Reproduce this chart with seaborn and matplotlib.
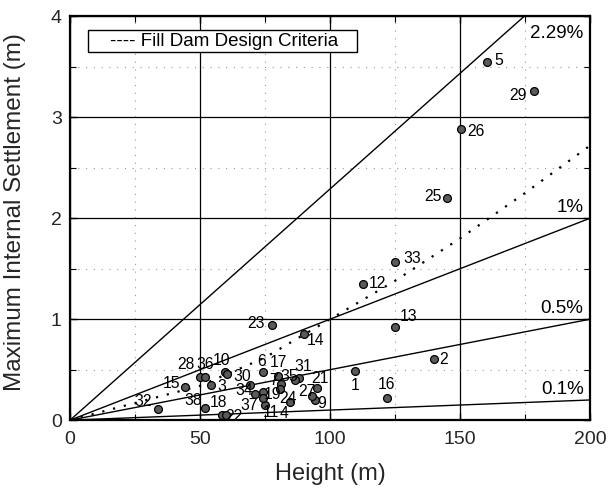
import numpy as np
import pandas as pd
import matplotlib
matplotlib.use("Agg")
import matplotlib.pyplot as plt
from matplotlib.patches import Rectangle
from matplotlib.ticker import MultipleLocator
import seaborn as sns

# Dam case records: case number, height (m), maximum internal settlement (m)
dam_ids = ["1", "2", "3", "4", "5", "6", "7", "9", "10", "11", "12", "13", "14",
           "15", "16", "17", "18", "19", "21", "22", "23", "24", "25", "26", "27",
           "28", "29", "30", "31", "32", "33", "34", "35", "36", "37", "38", ""]
height = [109.6, 140.0, 54.1, 84.6, 160.5, 74.3, 81.2, 94.2, 59.6, 75.0, 112.8, 125.0, 90.0,
          44.2, 121.8, 80.0, 58.3, 74.3, 94.9, 59.8, 77.8, 80.8, 145.1, 150.4, 93.1,
          50.0, 178.6, 60.3, 88.1, 34.0, 125.0, 71.2, 86.5, 51.9, 74.3, 51.9, 69.2]
settlement = [0.485, 0.61, 0.347, 0.181, 3.55, 0.478, 0.356, 0.198, 0.475, 0.149, 1.35, 0.92, 0.85,
              0.324, 0.215, 0.436, 0.056, 0.28, 0.314, 0.056, 0.94, 0.307, 2.20, 2.88, 0.238,
              0.43, 3.26, 0.462, 0.416, 0.106, 1.57, 0.264, 0.40, 0.43, 0.215, 0.116, 0.347]

# Fill dam design criteria curve
criteria_height = [0, 25, 50, 75, 100, 125, 150, 175, 200]
criteria_settlement = [0, 0.17, 0.34, 0.62, 1.0, 1.38, 1.8, 2.25, 2.72]

# Settlement as a percentage of dam height
ratio_pct = [2.29, 1.0, 0.5, 0.1]
ratio_labels = ["2.29%", "1%", "0.5%", "0.1%"]

# Where each case number sits relative to its marker (offset in points)
label_offsets = {
    "1": (0, -10), "2": (7, -1), "3": (8, -1), "4": (-4, -8), "5": (8.5, 1),
    "6": (-1, 7.5), "7": (-5.5, 3), "9": (5, -2.5), "10": (-2.5, 8.5),
    "11": (4, -5), "12": (10, 0), "13": (9.5, 7.5), "14": (8, -4.5),
    "15": (-9.5, 3), "16": (0, 10), "17": (0, 10), "18": (-2.5, 9),
    "19": (7, -2), "21": (2.5, 7), "22": (6, -1.5), "23": (-12, 1),
    "24": (6, -7), "25": (-10.5, 1), "26": (11, -1.5), "27": (-4, 3.5),
    "28": (-10, 8.5), "29": (-11.5, -3), "30": (11, -2.5), "31": (3, 8.5),
    "32": (-11, 5.5), "33": (12.5, 2), "34": (-8, 2), "35": (-4, 2),
    "36": (0, 8.5), "37": (-10, -5), "38": (-8.5, 6), "": (0, 0),
}

sns.set_theme(style="ticks")
plt.rcParams["font.family"] = ["Liberation Sans", "DejaVu Sans"]

fig = plt.figure(figsize=(6.09, 4.92), dpi=100)
ax = fig.add_axes([0.115, 0.146, 0.854, 0.821])

# Percentage reference lines through the origin
xs = np.array([0.0, 200.0])
for pct in ratio_pct:
    sns.lineplot(x=xs, y=xs * pct / 100.0, ax=ax, color="black", lw=1.0)

# Design criteria curve (dotted)
sns.lineplot(x=criteria_height, y=criteria_settlement, ax=ax, color="black",
             lw=1.6, linestyle=(0, (1, 4)), sort=False)

# Case records
df = pd.DataFrame({"height": height, "settlement": settlement, "dam": dam_ids})
sns.scatterplot(data=df, x="height", y="settlement", ax=ax, s=32,
                color="#5a5a5a", edgecolor="black", linewidth=0.9, zorder=5)
for h, s, name in zip(height, settlement, dam_ids):
    if not name:
        continue
    dx, dy = label_offsets[name]
    ax.annotate(name, (h, s), xytext=(dx, dy), textcoords="offset points",
                ha="center", va="center", fontsize=11.3, color="black", zorder=6)

# Percentage labels just above the end of each line
ratio_label_y = [3.83, 2.11, 1.11, 0.30]
for txt, ly in zip(ratio_labels, ratio_label_y):
    ax.text(197.5, ly, txt, ha="right", va="center", fontsize=13.5, color="black")

ax.set_xlim(0, 200)
ax.set_ylim(0, 4)
ax.xaxis.set_major_locator(MultipleLocator(50))
ax.xaxis.set_minor_locator(MultipleLocator(25))
ax.yaxis.set_major_locator(MultipleLocator(1))
ax.yaxis.set_minor_locator(MultipleLocator(0.5))
ax.grid(which="major", color="black", lw=0.9)
ax.grid(which="minor", color="#999999", lw=0.8, linestyle=(0, (1, 6)))
ax.tick_params(which="both", direction="in", top=True, right=True,
               color="black", labelsize=14)
ax.tick_params(axis="x", pad=8)
ax.tick_params(axis="y", pad=6)
ax.tick_params(which="major", length=5, width=1.0)
ax.tick_params(which="minor", length=4, width=0.8)
for sp in ax.spines.values():
    sp.set_color("black")
    sp.set_linewidth(1.6)

ax.set_xlabel("Height (m)", fontsize=17)
ax.set_ylabel("Maximum Internal Settlement (m)", fontsize=17.5)
ax.xaxis.set_label_coords(0.5, -0.105)
ax.yaxis.set_label_coords(-0.085, 0.515)

# Key box for the criteria curve
ax.add_patch(Rectangle((0.0346, 0.911), 0.517, 0.054, transform=ax.transAxes,
                       facecolor="white", edgecolor="black", lw=1.0, zorder=7))
ax.text(0.077, 0.938, "---- Fill Dam Design Criteria", transform=ax.transAxes,
        ha="left", va="center", fontsize=13.5, color="black", zorder=8)

fig.savefig("out.png", dpi=100)
